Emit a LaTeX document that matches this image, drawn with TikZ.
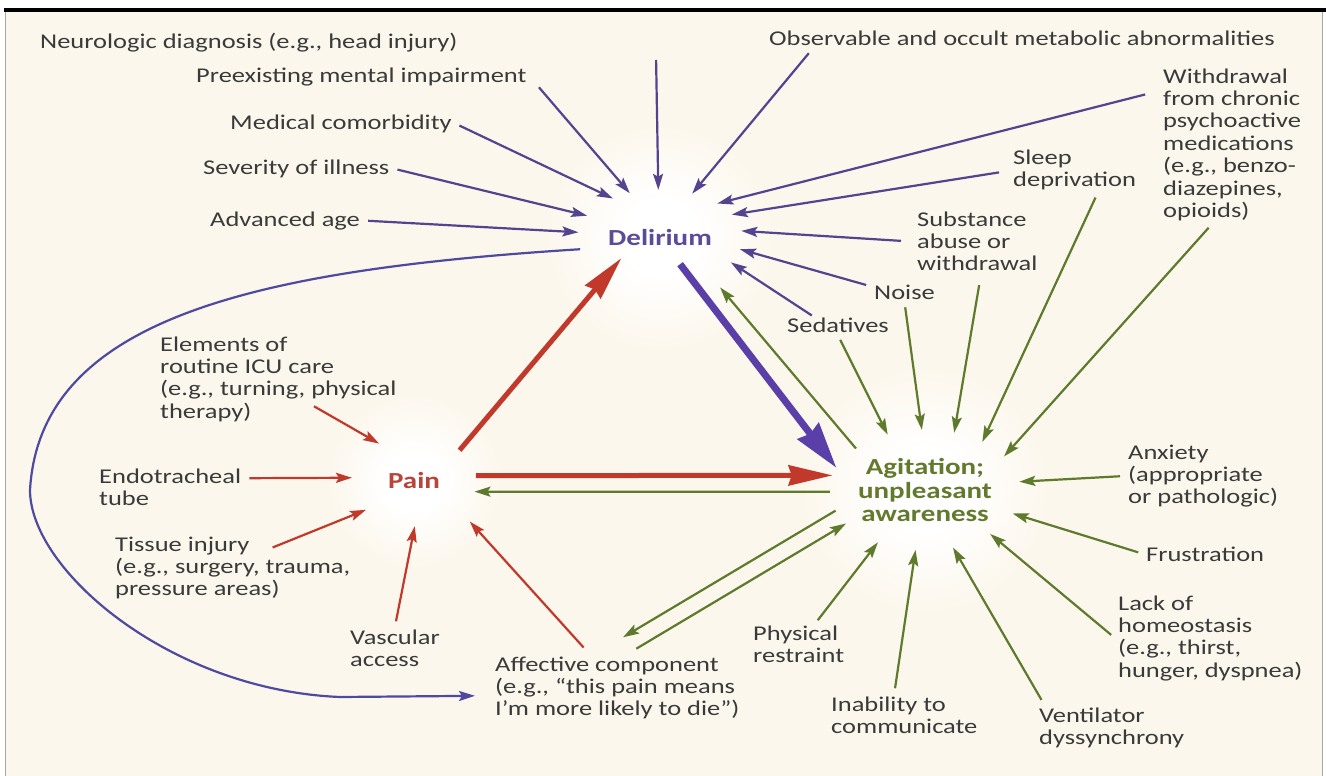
\documentclass[tikz,border=0pt]{standalone}
\usepackage{fontspec}
\setmainfont{Carlito}[FakeStretch=1.26]
\usetikzlibrary{arrows.meta,calc,shapes.geometric}
\definecolor{bgc}{HTML}{FCF7EC}
\definecolor{txtc}{HTML}{3A3A3A}
\definecolor{purp}{HTML}{54438F}
\definecolor{purpthick}{HTML}{5B3FA8}
\definecolor{curvec}{HTML}{4F4AA0}
\definecolor{redc}{HTML}{C0392B}
\definecolor{greenc}{HTML}{5E7A2C}
\definecolor{delc}{HTML}{5B4C9A}
\definecolor{painc}{HTML}{B8443A}
\definecolor{agitc}{HTML}{637A2E}
\pgfdeclareradialshading{glow}{\pgfpoint{0bp}{0bp}}{color(0bp)=(white); color(8bp)=(white); color(25bp)=(bgc); color(50bp)=(bgc)}
\newcommand\mylabfont{\fontsize{21}{22.4}\selectfont}
\newcommand\myhubfont{\fontsize{23}{23.5}\selectfont\bfseries}
\begin{document}
\begin{tikzpicture}[x=1pt,y=-1pt,
  lab/.style={anchor=base west, align=left, inner sep=3pt, text=txtc, font=\mylabfont},
  hub/.style={ellipse, inner sep=0pt, align=center, font=\myhubfont},
  thintip/.style={-{Stealth[length=16pt,width=10pt,inset=3pt]}},
  tp/.style={draw=purp, line width=2.2pt, thintip, shorten <=5pt},
  tg/.style={draw=greenc, line width=2.2pt, thintip, shorten <=5pt},
  tr/.style={draw=redc, line width=2.2pt, thintip, shorten <=5pt},
  thickR/.style={draw=redc, line width=5pt, -{Stealth[length=44pt,width=20pt,inset=3pt]}},
  thickP/.style={draw=purpthick, line width=7pt, -{Stealth[length=46pt,width=26pt,inset=3pt]}},
  curvestyle/.style={draw=curvec, line width=2.2pt, thintip}
]
\useasboundingbox (0,0) rectangle (1326,776);
\fill[white] (0,0) rectangle (1326,776);
\fill[bgc] (5,12) rectangle (1322,776);
\draw[black!35, line width=1pt] (5,12) -- (5,776) (1322,12) -- (1322,776);
\fill[black] (4,8) rectangle (1326,12.5);

% glows
\shade[shading=glow] (660,238) circle[radius=115pt];
\shade[shading=glow] (414,481) circle[radius=88pt];
\shade[shading=glow] (925,490) circle[radius=125pt];

% hubs
\node[hub, minimum width=164pt, minimum height=96pt, text=delc] (Del) at (660,238) {Delirium};
\node[hub, minimum width=124pt, minimum height=90pt, text=painc] (Pain) at (414,481) {Pain};
\node[hub, minimum width=190pt, minimum height=120pt, text=agitc] (Agit) at (925,490) {Agitation;\\unpleasant\\awareness};

% labels (anchor at the baseline of the last line)
\node[lab] (n1) at (37,49) {Neurologic diagnosis (e.g., head injury)};
\node[lab] (n2) at (193,83) {Preexisting mental impairment};
\node[lab] (n3) at (227,129) {Medical comorbidity};
\node[lab] (n4) at (200,174) {Severity of illness};
\node[lab] (n5) at (207,226) {Advanced age};
\node[lab] (n6) at (766,46) {Observable and occult metabolic abnormalities};
\node[lab] (n7) at (1160,217.4) {Withdrawal\\from chronic\\psychoactive\\medications\\(e.g., benzo-\\diazepines,\\opioids)};
\node[lab] (n8) at (1010,186.4) {Sleep\\deprivation};
\node[lab] (n9) at (914,270.8) {Substance\\abuse or\\withdrawal};
\node[lab] (n10) at (871,299) {Noise};
\node[lab] (n11) at (784,332) {Sedatives};
\node[lab] (n12) at (157,418.2) {Elements of\\routine ICU care\\(e.g., turning, physical\\therapy)};
\node[lab] (n13) at (96,505.4) {Endotracheal\\tube};
\node[lab] (n14) at (112,595.8) {Tissue injury\\(e.g., surgery, trauma,\\pressure areas)};
\node[lab] (n15) at (347,666.4) {Vascular\\access};
\node[lab] (n16) at (492,715.8) {Affective component\\(e.g., “this pain means\\I’m more likely to die”)};
\node[lab] (n17) at (750,662.4) {Physical\\restraint};
\node[lab] (n18) at (828,733.4) {Inability to\\communicate};
\node[lab] (n19) at (1036,744.4) {Ventilator\\dyssynchrony};
\node[lab] (n20) at (1115,677.2) {Lack of\\homeostasis\\(e.g., thirst,\\hunger, dyspnea)};
\node[lab] (n21) at (1143,561) {Frustration};
\node[lab] (n22) at (1125,503.8) {Anxiety\\(appropriate\\or pathologic)};
\coordinate (ntop) at (656,55);

% purple arrows into Delirium
\draw[tp] ($(n2.east)+(6,6)$) -- (Del.124);
\draw[tp] (ntop) -- (Del.92);
\draw[tp] (n3.east) -- (Del.140);
\draw[tp] (n4.east) -- (Del.163);
\draw[tp] (n5.east) -- (Del.176);
\draw[tp] ($(n6.south west)+(46,0)$) -- (Del.54);
\draw[tp] ($(n7.north west)+(-10,28)$) -- (Del.31);
\draw[tp] ($(n8.west)+(-6,2)$) -- (Del.18);
\draw[tp] ($(n9.west)+(-8,0)$) -- (Del.5);
\draw[tp] ($(n10.north west)+(0,5)$) -- (Del.-8);
\draw[tp] ($(n11.north west)+(32,4)$) -- (Del.-19.6);

% green arrows into Agitation
\draw[tg] (n11.south) -- (Agit.124);
\draw[tg] (n10.south) -- (Agit.93);
\draw[tg] ($(n9.south west)+(66,6)$) -- (Agit.63);
\draw[tg] ($(n8.south)+(23,0)$) -- (Agit.40);
\draw[tg] ($(n7.south west)+(52,0)$) -- (Agit.23);
\draw[tg] (n22.west) -- (Agit.5);
\draw[tg] (n21.west) -- (Agit.345.5);
\draw[tg] (n20.west) -- (Agit.326);
\draw[tg] ($(n19.north west)+(8,0)$) -- (Agit.296);
\draw[tg] ($(n18.north)+(-10,0)$) -- (Agit.261);
\draw[tg] ($(n17.north)+(16,2)$) -- (Agit.228.5);

% red arrows into Pain
\draw[tr] ($(n12.south east)+(-90,-21)$) -- (Pain.133);
\draw[tr] ($(n13.north east)+(0,13)$) -- (Pain.177);
\draw[tr] ($(n14.north west)+(156,16)$) -- (Pain.211);
\draw[tr] (n15.north) -- (Pain.-89);
\draw[tr, shorten >=14pt] ($(n16.north west)+(95,-2)$) -- (Pain.-33);

% hub to hub
\draw[thickR, shorten >=-22pt] (Pain.34) -- (Del.215);
\draw[thickP, shorten <=33pt] (Del.center) -- (Agit.166);
\draw[tg, shorten <=0pt, shorten >=15pt] (Agit.149) -- (Del.-37);
\draw[thickR] (Pain.5) -- (Agit.171);
\draw[tg, shorten <=0pt] (Agit.181) -- (Pain.-10);
\draw[tg, shorten <=0pt] (Agit.193) -- ($(n16.north west)+(131,-16)$);
\draw[tg] ($(n16.north west)+(140,-2)$) -- (Agit.203);

% long curve from Delirium to affective component
\coordinate (cl) at (30,490);
\draw[curvestyle] (Del.188) .. controls (250,270) and (40,320) .. (cl)
  .. controls (30,570) and (170,690) .. (340,697) -- ($(n16.west)+(-17,8)$);
\end{tikzpicture}
\end{document}
